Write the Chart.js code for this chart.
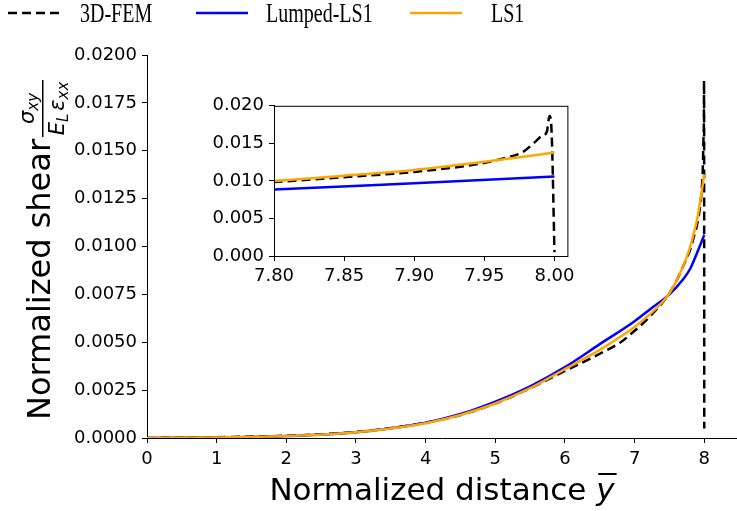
<!DOCTYPE html>
<html>
<head>
<meta charset="utf-8">
<script src="https://cdn.jsdelivr.net/npm/chart.js@4/dist/chart.umd.min.js"></script>
<style>
  body { margin: 0; background: #fff; }
  #wrap { position: relative; width: 737px; height: 511px; }
  #main { position: absolute; left: 0; top: 0; }
  #inset { position: absolute; left: 200px; top: 90px; }
</style>
</head>
<body>
<div id="wrap">
  <canvas id="main" width="737" height="511"></canvas>
  <canvas id="inset" width="380" height="200"></canvas>
</div>
<script>
// values
const femX = [0, 1, 2, 3, 4, 4.5, 5, 5.5, 6, 6.5, 6.8, 7, 7.18, 7.47, 7.6, 7.7, 7.8, 7.85, 7.9, 7.948, 7.965, 7.977, 7.986, 7.991, 7.9945, 7.9965, 7.998, 8.0];
const femY = [0, 0.00004, 0.00012, 0.00032, 0.0008, 0.0012, 0.0018, 0.0026, 0.0035, 0.0044, 0.005, 0.0056, 0.0062, 0.0074, 0.0082, 0.009, 0.00985, 0.0105, 0.0112, 0.01233, 0.01307, 0.0138, 0.01516, 0.016, 0.0165, 0.01865, 0.0163, 0.0005];

const lumpedX = [0, 1, 2, 3, 4, 4.5, 5, 5.5, 6, 6.5, 7, 7.25, 7.5, 7.7, 7.8, 7.9, 8.0];
const lumpedY = [0, 0.00003, 0.0001, 0.0003, 0.0008, 0.00125, 0.0019, 0.0027, 0.0037, 0.0049, 0.0061, 0.0068, 0.0075, 0.0083, 0.00885, 0.0097, 0.0106];

const ls1X = [0, 1, 2, 3, 4, 4.5, 5, 5.5, 6, 6.5, 6.8, 7, 7.2, 7.47, 7.6, 7.7, 7.8, 7.85, 7.9, 7.95, 8.0];
const ls1Y = [0, 0.00003, 0.0001, 0.0003, 0.00077, 0.0012, 0.0018, 0.0026, 0.0036, 0.0046, 0.0053, 0.0058, 0.0064, 0.0074, 0.0082, 0.009, 0.01, 0.0107, 0.01146, 0.01255, 0.01377];

const seriesLabels = ['3D-FEM', 'Lumped-LS1', 'LS1'];

const xTicks = [0, 1, 2, 3, 4, 5, 6, 7, 8];
const yTicks = [0, 0.0025, 0.005, 0.0075, 0.01, 0.0125, 0.015, 0.0175, 0.02];
const insetXTicks = [7.80, 7.85, 7.90, 7.95, 8.00];
const insetYTicks = [0, 0.005, 0.01, 0.015, 0.02];

Chart.defaults.color = '#000';
Chart.defaults.font.family = '"DejaVu Sans"';

function points(xs, ys) {
  return xs.map((x, i) => ({ x: x, y: ys[i] }));
}

function makeDatasets() {
  return [
    { label: seriesLabels[0], data: points(femX, femY), borderColor: '#000', borderDash: [9, 5], order: 2 },
    { label: seriesLabels[1], data: points(lumpedX, lumpedY), borderColor: '#0000ff', order: 1 },
    { label: seriesLabels[2], data: points(ls1X, ls1Y), borderColor: '#ffa500', order: 0 }
  ].map(ds => Object.assign(ds, {
    borderWidth: 2.5,
    pointRadius: 0,
    fill: false,
    cubicInterpolationMode: 'monotone'
  }));
}

function axis(ticks, min, max, fmt, pad, fit) {
  return {
    type: 'linear',
    min: min,
    max: max,
    afterBuildTicks: s => { s.ticks = ticks.map(v => ({ value: v })); },
    afterFit: fit,
    ticks: { callback: v => v.toFixed(fmt), font: { size: 18 }, padding: pad, maxRotation: 0, autoSkip: false },
    grid: { drawOnChartArea: false, drawTicks: true, tickLength: 5, tickColor: '#000' },
    border: { display: true, color: '#000', width: 1 }
  };
}

// legend drawn along the top, lines + serif labels
const topLegend = {
  id: 'topLegend',
  afterDraw(chart) {
    const ctx = chart.ctx;
    const lineStart = [8, 196, 410];
    const textStart = [80, 266, 491];
    ctx.save();
    chart.data.datasets.forEach((ds, i) => {
      ctx.strokeStyle = ds.borderColor;
      ctx.lineWidth = 2.5;
      ctx.setLineDash(ds.borderDash || []);
      ctx.beginPath();
      ctx.moveTo(lineStart[i], 13);
      ctx.lineTo(lineStart[i] + 52, 13);
      ctx.stroke();
      ctx.save();
      ctx.translate(textStart[i], 22);
      ctx.scale(1, 1.38);
      ctx.fillStyle = '#000';
      ctx.font = '20px "Liberation Serif"';
      ctx.textBaseline = 'alphabetic';
      ctx.fillText(ds.label, 0, 0);
      ctx.restore();
    });
    ctx.restore();
  }
};

// axis titles with the math parts
const axisTitles = {
  id: 'axisTitles',
  afterDraw(chart) {
    const ctx = chart.ctx;
    const a = chart.chartArea;
    ctx.save();
    ctx.fillStyle = '#000';
    ctx.textBaseline = 'alphabetic';

    const base = 'Normalized distance ';
    ctx.font = '31px "DejaVu Sans"';
    const w1 = ctx.measureText(base).width;
    ctx.font = 'italic 31px "DejaVu Sans"';
    const w2 = ctx.measureText('y').width;
    const x0 = (a.left + a.right) / 2 - (w1 + w2) / 2;
    const by = 500;
    ctx.font = '31px "DejaVu Sans"';
    ctx.fillText(base, x0, by);
    ctx.font = 'italic 31px "DejaVu Sans"';
    ctx.fillText('y', x0 + w1, by);
    ctx.fillRect(x0 + w1 + 2, by - 27, w2, 2);

    ctx.translate(50, 420);
    ctx.rotate(-Math.PI / 2);
    ctx.font = '32px "DejaVu Sans"';
    ctx.fillText('Normalized shear', 0, 0);

    const big = 'italic 21px "DejaVu Sans"';
    const small = 'italic 15px "DejaVu Sans"';
    const fracL = 283, fracR = 340, mid = (fracL + fracR) / 2;
    ctx.fillRect(fracL, -8, fracR - fracL, 1.5);

    ctx.font = big; const ws = ctx.measureText('σ').width;
    ctx.font = small; const wxy = ctx.measureText('xy').width;
    let nx = mid - (ws + wxy) / 2;
    ctx.font = big; ctx.fillText('σ', nx, -16);
    ctx.font = small; ctx.fillText('xy', nx + ws, -12);

    ctx.font = big; const wE = ctx.measureText('E').width, we = ctx.measureText('ε').width;
    ctx.font = small; const wL = ctx.measureText('L').width, wxx = ctx.measureText('xx').width;
    let dx = mid - (wE + wL + 3 + we + wxx) / 2;
    ctx.font = big; ctx.fillText('E', dx, 14);
    ctx.font = small; ctx.fillText('L', dx + wE, 18);
    ctx.font = big; ctx.fillText('ε', dx + wE + wL + 3, 14);
    ctx.font = small; ctx.fillText('xx', dx + wE + wL + 3 + we, 18);
    ctx.restore();
  }
};

new Chart(document.getElementById('main'), {
  type: 'line',
  data: { datasets: makeDatasets() },
  options: {
    responsive: false,
    animation: false,
    devicePixelRatio: 1,
    layout: { padding: { top: 55, left: 0, right: 0, bottom: 0 } },
    plugins: { legend: { display: false }, tooltip: { enabled: false } },
    scales: {
      x: axis(xTicks, 0, 8.47, 0, 6, s => { s.height = 73; }),
      y: axis(yTicks, 0, 0.02, 4, 5, s => { s.width = 147; })
    }
  },
  plugins: [topLegend, axisTitles]
});

const insetFrame = {
  id: 'insetFrame',
  beforeDraw(chart) {
    const a = chart.chartArea, ctx = chart.ctx;
    ctx.save();
    ctx.fillStyle = '#fff';
    ctx.fillRect(a.left, a.top, a.right - a.left, a.bottom - a.top);
    ctx.restore();
  },
  afterDraw(chart) {
    const a = chart.chartArea, ctx = chart.ctx;
    ctx.save();
    ctx.strokeStyle = '#000';
    ctx.lineWidth = 1;
    ctx.strokeRect(a.left + 0.5, a.top + 0.5, a.right - a.left, a.bottom - a.top);
    ctx.restore();
  }
};

new Chart(document.getElementById('inset'), {
  type: 'line',
  data: { datasets: makeDatasets() },
  options: {
    responsive: false,
    animation: false,
    devicePixelRatio: 1,
    layout: { padding: { top: 13, left: 10, right: 11, bottom: 0 } },
    plugins: { legend: { display: false }, tooltip: { enabled: false } },
    scales: {
      x: axis(insetXTicks, 7.8, 8.0092, 2, 5, s => { s.height = 34; }),
      y: axis(insetYTicks, 0, 0.02, 3, 5, s => { s.width = 64; })
    }
  },
  plugins: [insetFrame]
});
</script>
</body>
</html>
